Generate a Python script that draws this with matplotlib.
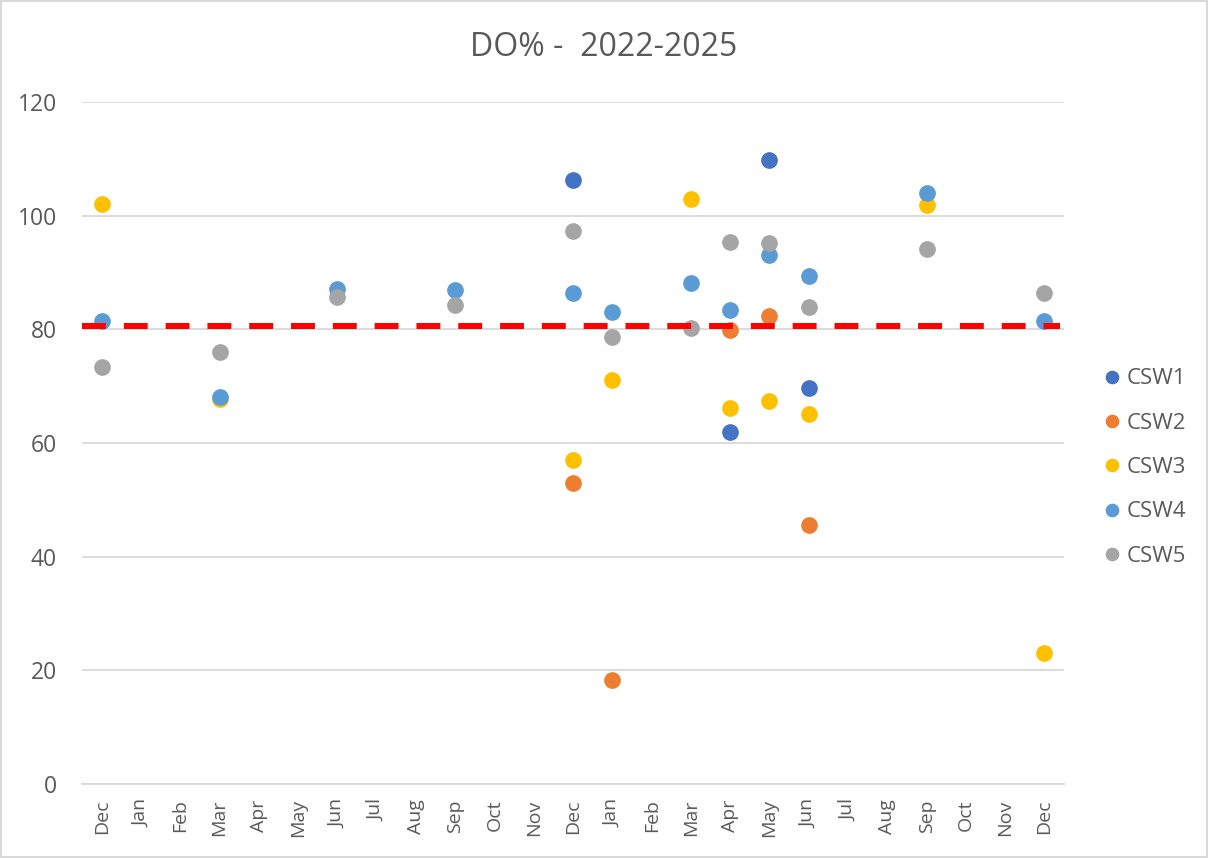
import numpy as np
import matplotlib.pyplot as plt

plt.rcParams["font.family"] = ["Open Sans", "DejaVu Sans"]

months = ["Dec", "Jan", "Feb", "Mar", "Apr", "May", "Jun", "Jul", "Aug", "Sep", "Oct", "Nov",
          "Dec", "Jan", "Feb", "Mar", "Apr", "May", "Jun", "Jul", "Aug", "Sep", "Oct", "Nov", "Dec"]
nan = np.nan

csw1 = [nan, nan, nan, nan, nan, nan, nan, nan, nan, nan, nan, nan,
        106.3, nan, nan, nan, 61.9, 109.8, 69.7, nan, nan, nan, nan, nan, nan]
csw2 = [nan, nan, nan, nan, nan, nan, nan, nan, nan, nan, nan, nan,
        53.0, 18.3, nan, nan, 79.9, 82.4, 45.6, nan, nan, nan, nan, nan, nan]
csw3 = [102.1, nan, nan, 67.7, nan, nan, nan, nan, nan, nan, nan, nan,
        57.0, 71.1, nan, 102.9, 66.2, 67.4, 65.1, nan, nan, 101.9, nan, nan, 23.1]
csw4 = [81.5, nan, nan, 68.1, nan, nan, 87.1, nan, nan, 86.9, nan, nan,
        86.4, 83.1, nan, 88.2, 83.4, 93.1, 89.4, nan, nan, 104.0, nan, nan, 81.5]
csw5 = [73.4, nan, nan, 76.0, nan, nan, 85.7, nan, nan, 84.3, nan, nan,
        97.3, 78.7, nan, 80.2, 95.4, 95.2, 83.9, nan, nan, 94.1, nan, nan, 86.4]
target = 80.5

series = {"CSW1": csw1, "CSW2": csw2, "CSW3": csw3, "CSW4": csw4, "CSW5": csw5}
colors = {"CSW1": "#4472C4", "CSW2": "#ED7D31", "CSW3": "#FFC000",
          "CSW4": "#5B9BD5", "CSW5": "#A5A5A5"}

fig = plt.figure(figsize=(12.08, 8.58), dpi=100)
fig.patch.set_edgecolor("#D9D9D9")
fig.patch.set_linewidth(1.5)
ax = fig.add_axes([0.0679, 0.0862, 0.813, 0.795])

x = np.arange(len(months))
for name, vals in series.items():
    ax.plot(x, vals, "o", ms=11, color=colors[name], label=name, zorder=3)

ax.plot([-0.5, 24.4], [target, target], color="#FF0000", lw=4.3,
        dashes=(4, 3), zorder=4)

ax.set_xlim(-0.5, 24.5)
ax.set_ylim(0, 120)
ax.set_yticks(range(0, 121, 20))
ax.set_xticks(x)
ax.set_xticklabels(months, rotation=90)
ax.tick_params(length=0, colors="#595959")
ax.tick_params(axis="x", labelsize=14, pad=11)
ax.tick_params(axis="y", labelsize=16.5, pad=18)
ax.grid(axis="y", color="#D9D9D9", lw=1.3)
ax.set_axisbelow(True)
for s in ["top", "right", "left"]:
    ax.spines[s].set_visible(False)
ax.spines["bottom"].set_color("#D9D9D9")
ax.spines["bottom"].set_linewidth(1.3)

fig.text(0.5, 1 - 48 / 858, "DO% -  2022-2025", fontsize=23, color="#595959",
         ha="center", va="center")

fig.legend(handles=ax.get_lines()[:5], loc="center left",
           bbox_to_anchor=(0.893, 0.455), frameon=False,
           fontsize=16, labelcolor="#595959", handletextpad=0.05,
           handlelength=1.2, labelspacing=1.05, markerscale=0.8)

fig.savefig("out.png", dpi=100)
